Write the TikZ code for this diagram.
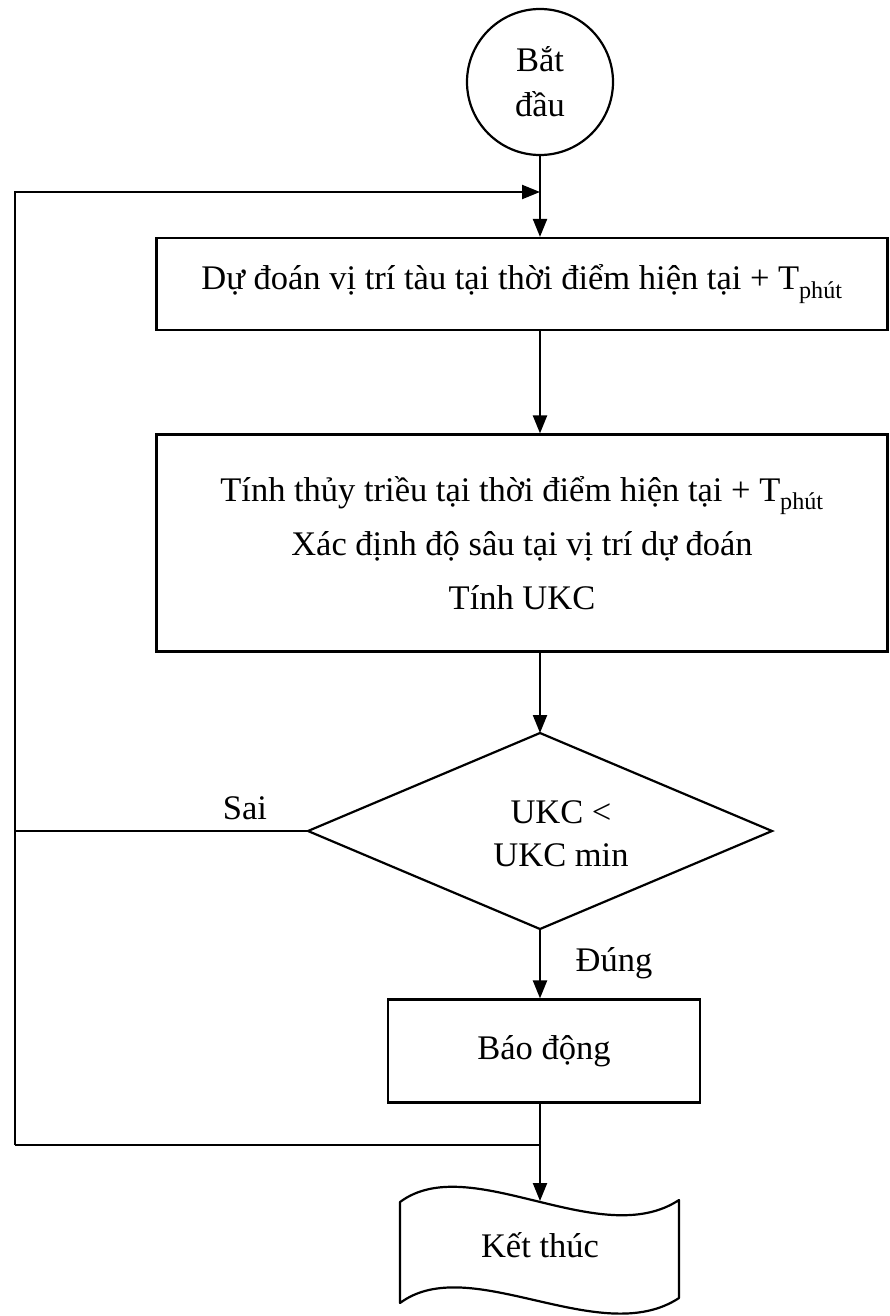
\documentclass[tikz,border=0pt]{standalone}
\usepackage{fontspec}
\setmainfont{Liberation Serif}
\usetikzlibrary{arrows.meta}
\begin{document}
\begin{tikzpicture}[x=1pt,y=-1pt,
  line/.style={line width=2.2pt},
  flow/.style={line, -{Triangle[length=18pt,width=14pt]}},
  box/.style={draw, line width=2.2pt, inner sep=0pt, align=center, font=\fontsize{34.5}{40}\selectfont},
  lbl/.style={font=\fontsize{34.5}{40}\selectfont}]
\useasboundingbox (0,0) rectangle (890,1316);

% start terminal
\node[box, circle, minimum size=146pt, font=\fontsize{34.5}{45}\selectfont] (start) at (540,82) {Bắt\\đầu};

% process boxes
\node[box, minimum width=731pt, minimum height=92pt] (b1) at (522,284)
  {Dự đoán vị trí tàu tại thời điểm hiện tại + T\textsubscript{phút}};
\node[box, minimum width=731pt, minimum height=217pt, font=\fontsize{34.5}{54}\selectfont] (b2) at (522,543)
  {Tính thủy triều tại thời điểm hiện tại + T\textsubscript{phút}\\Xác định độ sâu tại vị trí dự đoán\\Tính UKC};

% decision
\coordinate (dT) at (540,733);
\coordinate (dR) at (772,831);
\coordinate (dB) at (540,929);
\coordinate (dL) at (308,831);
\draw[line, line join=miter] (dT) -- (dR) -- (dB) -- (dL) -- cycle;
\node[lbl, align=center, font=\fontsize{34.5}{43}\selectfont] (dec) at (561,834) {UKC <\\UKC min};

% alarm
\node[box, minimum width=312pt, minimum height=103pt] (alarm) at (544,1051) {Báo động};

% end terminal (document shape)
\coordinate (eTL) at (400,1202);
\coordinate (eTR) at (679,1200);
\coordinate (eBL) at (400,1303);
\coordinate (eBR) at (679,1298);
\coordinate (endtop) at (540,1201);
\draw[line, line join=round] (eTL) .. controls (470,1150) and (600,1252) .. (eTR)
  -- (eBR) .. controls (600,1350) and (470,1251) .. (eBL) -- cycle;
\node[lbl] (end) at (540,1245) {Kết thúc};

% loop-back path
\coordinate (jTop) at (540,192);
\coordinate (cTL) at (15,192);
\coordinate (cBL) at (15,1145);
\coordinate (jBot) at (540,1145);

% connectors
\draw[flow] (start.south) -- (start.south |- b1.north);
\draw[flow] (b1.south -| start) -- (b2.north -| start);
\draw[flow] (b2.south -| start) -- (dT);
\draw[flow] (dB) -- (alarm.north -| dB);
\draw[flow] (alarm.south -| dB) -- (endtop);
\draw[line] (dL) -- (dL -| cTL);
\draw[line] (jBot) -- (cBL);
\draw[flow] (cBL) -- (cTL) -- (jTop);

% branch labels
\node[lbl] (sai) at (245,808) {Sai};
\node[lbl] (dung) at (614,963) {Đúng};
\end{tikzpicture}
\end{document}
